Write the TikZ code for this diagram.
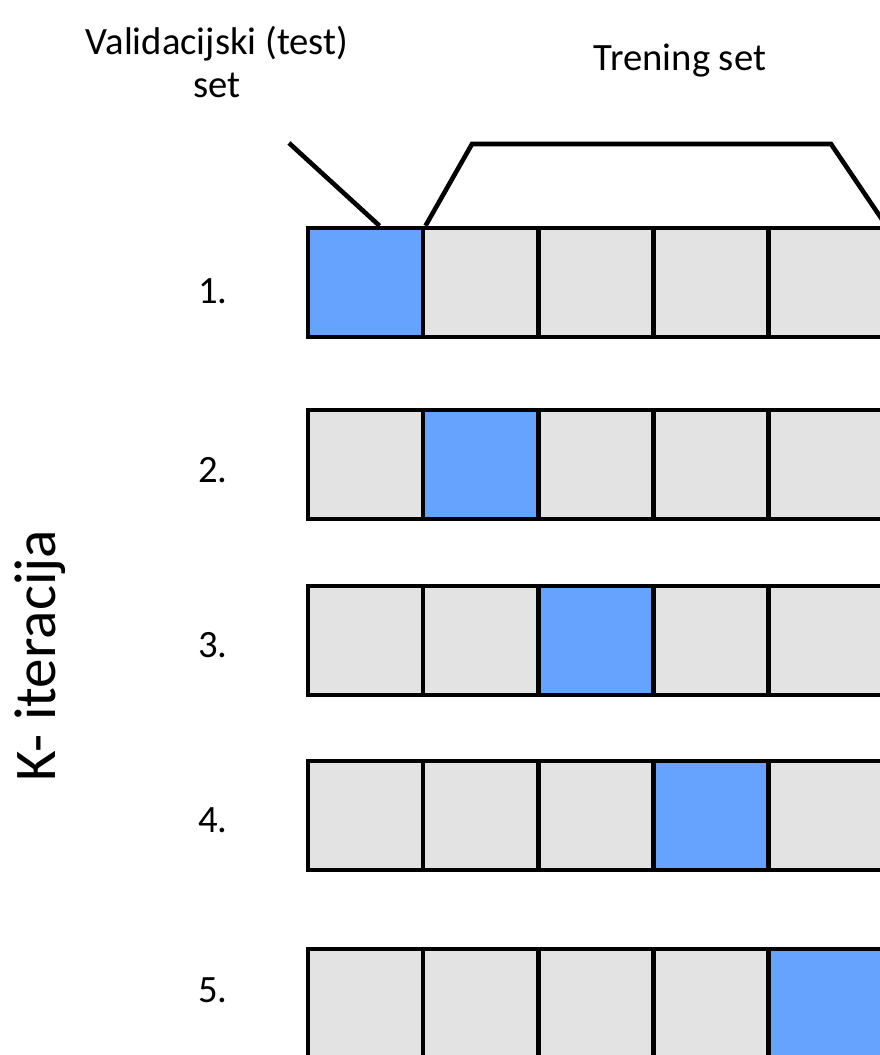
\documentclass[tikz,border=0pt]{standalone}
\usepackage{fontspec}
\setmainfont{Carlito}
\definecolor{foldblue}{RGB}{102,163,255}
\definecolor{foldgray}{RGB}{227,227,227}
\tikzset{
  fold/.style={draw=black,line width=0.115cm,fill=foldgray,rectangle,
    minimum width=2.88cm,minimum height=2.72cm,inner sep=0pt},
  testfold/.style={fold,fill=foldblue},
  lbl/.style={font=\fontsize{27.5}{31}\selectfont,align=center}
}

\begin{document}
\begin{tikzpicture}[x=0.025cm,y=-0.025cm]
   \useasboundingbox (0,0) rectangle (880,1055);
   % rows: number / top edge / label y
   \foreach \r/\t/\ly in {1/228/291,2/410/470,3/586/645,4/761/820,5/949/990}{
     \foreach \c in {1,...,5}{
       \ifnum\c=\r
         \node[testfold] (c\r\c) at ({308+115.2*(\c-0.5)},{\t+54.5}) {};
       \else
         \node[fold] (c\r\c) at ({308+115.2*(\c-0.5)},{\t+54.5}) {};
       \fi
     }
     \node[lbl] (n\r) at (213,\ly) {\r.};
   }
   \coordinate (vtip) at (289,143);
   \coordinate (vend) at ([xshift=-1.15cm]c11.north east);
   \draw[line width=0.115cm] (vtip) -- (vend);
   \draw[line width=0.115cm,line join=miter] (c11.north east) -- (472,144) -- (831,144) -- (c15.north east);
   \node[lbl] (val) at (217,62) {Validacijski (test)\\set};
   \node[lbl] (tren) at (680,61) {Trening set};
   \node[font=\fontsize{42}{50}\selectfont,rotate=90] (kit) at (40,656) {K- iteracija};
  \end{tikzpicture}
\end{document}
